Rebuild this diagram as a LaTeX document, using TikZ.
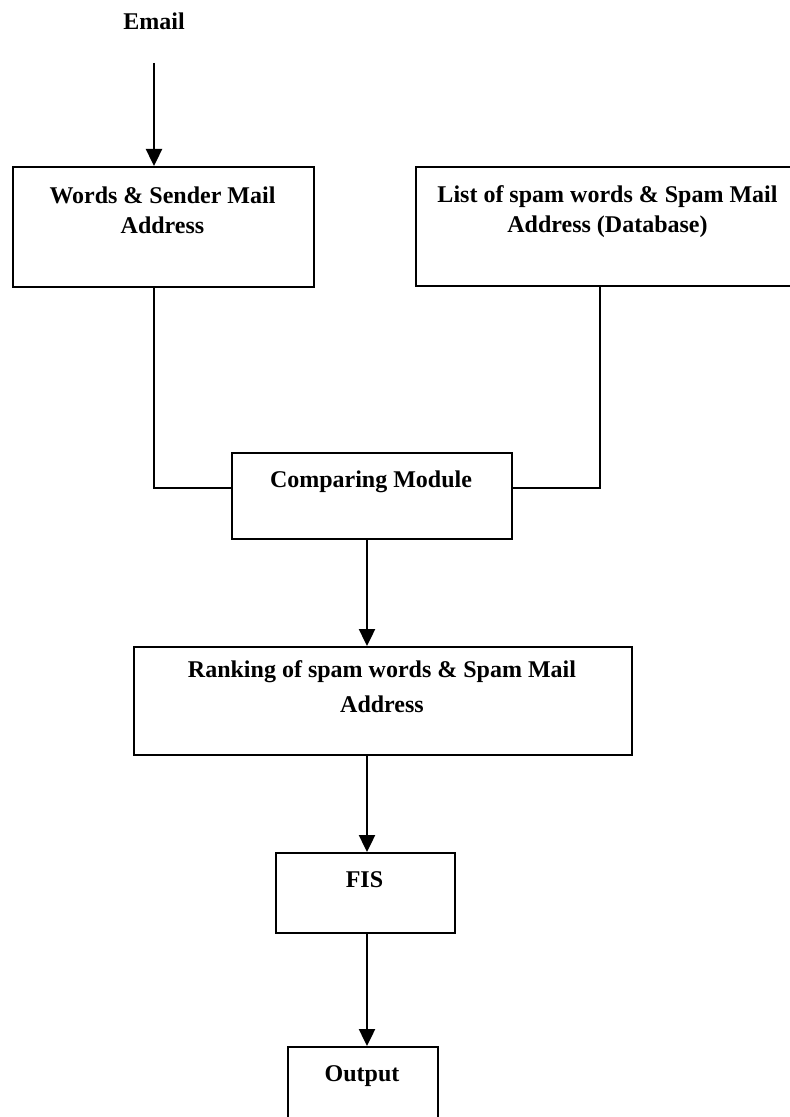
\documentclass[tikz,border=0pt]{standalone}
\usepackage{fontspec}
\setmainfont{Liberation Serif}
\usetikzlibrary{arrows.meta}
\begin{document}
\begin{tikzpicture}[x=0.5pt,y=-0.5pt,
  box/.style={draw=black, line width=1pt, rectangle, inner sep=0pt},
  lbl/.style={font=\fontsize{12}{15}\selectfont\bfseries, align=center, inner sep=0pt, anchor=north},
  link/.style={draw=black, line width=1pt},
  flow/.style={draw=black, line width=1.2pt, -{Triangle[length=8.5pt,width=8pt]}}]
\useasboundingbox (0,0) rectangle (790,1117);
% boxes
\node[box, anchor=north west, minimum width=150.5pt, minimum height=60pt] (b1) at (12,166) {};
\node[box, anchor=north west, minimum width=192.5pt, minimum height=59.5pt] (b2) at (415,166) {};
\node[box, anchor=north west, minimum width=140pt, minimum height=43pt] (cmp) at (231,452) {};
\node[box, anchor=north west, minimum width=249pt, minimum height=54pt] (rank) at (133,646) {};
\node[box, anchor=north west, minimum width=89.5pt, minimum height=40pt] (fis) at (275,852) {};
\node[box, anchor=north west, minimum width=75pt, minimum height=50pt] (out) at (287,1046) {};
% labels
\node[lbl] (temail) at (154,12) {Email};
\node[lbl] (t1) at (162.5,186) {Words \& Sender Mail\\Address};
\node[lbl] (t2) at (607.5,185) {List of spam words \& Spam Mail\\Address (Database)};
\node[lbl] (t3) at (371,470) {Comparing Module};
\node[lbl, font=\fontsize{12}{17.5}\selectfont\bfseries] (t4) at (382,660) {Ranking of spam words \& Spam Mail\\Address};
\node[lbl] (t5) at (364.5,871) {FIS};
\node[lbl] (t6) at (362,1065) {Output};
% connectors
\coordinate (e0) at (154,63);
\draw[flow] (e0) -- (e0 |- b1.north);
\coordinate (l1) at (154,488);
\coordinate (r1) at (600,488);
\draw[link] (l1 |- b1.south) -- (l1) -- (l1 -| cmp.west);
\draw[link] (r1 |- b2.south) -- (r1) -- (r1 -| cmp.east);
\coordinate (m) at (367,0);
\draw[flow] (m |- cmp.south) -- (m |- rank.north);
\draw[flow] (m |- rank.south) -- (m |- fis.north);
\draw[flow] (m |- fis.south) -- (m |- out.north);
\end{tikzpicture}
\end{document}
